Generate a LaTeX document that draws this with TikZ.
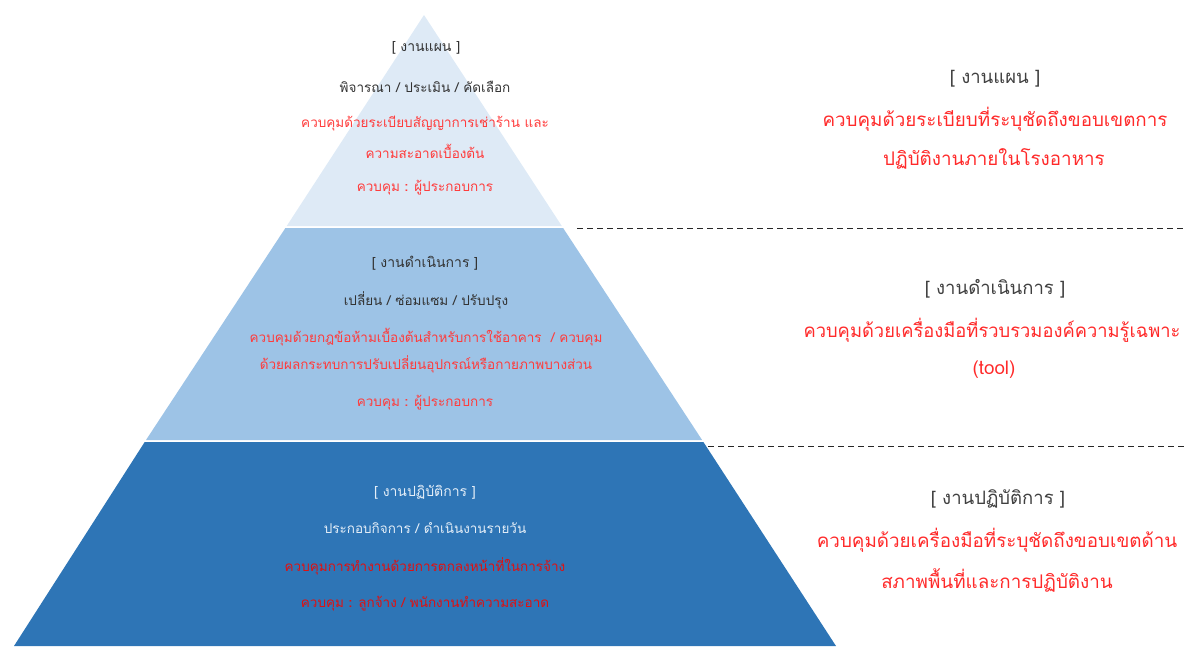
\documentclass[tikz,border=0pt]{standalone}
\usepackage{fontspec}
\setmainfont{Loma}[Script=Thai]
\definecolor{bandtop}{HTML}{DEEAF6}
\definecolor{bandmid}{HTML}{9DC3E6}
\definecolor{bandbot}{HTML}{2E75B6}
\definecolor{hdr}{HTML}{333333}
\definecolor{redA}{HTML}{FF3B3B}
\definecolor{redB}{HTML}{E01010}
\definecolor{lighttxt}{HTML}{E4EEF8}
\definecolor{rightred}{HTML}{FF2A2A}
\definecolor{rightgray}{HTML}{404040}
\tikzset{
  ptxt/.style={font=\fontsize{13.5}{16}\selectfont, inner sep=0pt, anchor=center},
  phdr/.style={font=\fontsize{14}{17}\selectfont, inner sep=0pt, anchor=center},
  rtxt/.style={font=\fontsize{18.8}{22}\selectfont, inner sep=0pt, anchor=center},
  rhdr/.style={font=\fontsize{18.5}{22}\selectfont, inner sep=0pt, anchor=center, text=rightgray},
  sep/.style={dashed, dash pattern=on 6pt off 4pt, line width=1pt, draw=black!85}
}
\begin{document}
\begin{tikzpicture}[x=1pt,y=-1pt]
\useasboundingbox (0,0) rectangle (1186,646);
% pyramid bands
\fill[bandtop] (424,15) -- (561.8,226) -- (286.7,226) -- cycle;
\fill[bandmid] (563.1,228) -- (702.1,440) -- (146.0,440) -- (285.4,228) -- cycle;
\fill[bandbot] (703.4,442) -- (836,646) -- (14,646) -- (144.7,442) -- cycle;
% dashed separators
\coordinate (s1a) at (577,228);
\coordinate (s1b) at (1186,228);
\coordinate (s2a) at (708,446);
\coordinate (s2b) at (1186,446);
\draw[sep] (s1a) -- (s1b);
\draw[sep] (s2a) -- (s2b);
% top band text
\node[phdr, text=hdr] (t1) at (426,48) {[ งานแผน ]};
\node[ptxt, text=hdr] (t2) at (425,87) {พิจารณา / ประเมิน / คัดเลือก};
\node[ptxt, text=redA] (t3) at (425,124) {ควบคุมด้วยระเบียบสัญญาการเช่าร้าน และ};
\node[ptxt, text=redA] (t4) at (425,151) {ความสะอาดเบื้องต้น};
\node[ptxt, text=redA] (t5) at (425,188) {ควบคุม \textbf{:} ผู้ประกอบการ};
% middle band text
\node[phdr, text=hdr] (m1) at (425,263) {[ งานดำเนินการ ]};
\node[ptxt, text=hdr] (m2) at (426,300) {เปลี่ยน / ซ่อมแซม / ปรับปรุง};
\node[ptxt, text=redA] (m3) at (426,337) {ควบคุมด้วยกฎข้อห้ามเบื้องต้นสำหรับการใช้อาคาร~ / ควบคุม};
\node[ptxt, text=redA] (m4) at (426,364) {ด้วยผลกระทบการปรับเปลี่ยนอุปกรณ์หรือกายภาพบางส่วน};
\node[ptxt, text=redA] (m5) at (425,403) {ควบคุม \textbf{:} ผู้ประกอบการ};
% bottom band text
\node[phdr, text=lighttxt] (b1) at (425,492) {[ งานปฏิบัติการ ]};
\node[ptxt, text=lighttxt] (b2) at (425,528) {ประกอบกิจการ / ดำเนินงานรายวัน};
\node[ptxt, text=redB] (b3) at (425,566) {ควบคุมการทำงานด้วยการตกลงหน้าที่ในการจ้าง};
\node[ptxt, text=redB] (b4) at (425,604) {ควบคุม \textbf{:} ลูกจ้าง / พนักงานทำความสะอาด};
% right side text
\node[rhdr] (r1) at (995,79) {[ งานแผน ]};
\node[rtxt, text=rightred] (r2) at (995,119) {ควบคุมด้วยระเบียบที่ระบุชัดถึงขอบเขตการ};
\node[rtxt, text=rightred] (r3) at (994,159) {ปฏิบัติงานภายในโรงอาหาร};
\node[rhdr] (r4) at (995,289) {[ งานดำเนินการ ]};
\node[rtxt, text=rightred] (r5) at (992,330) {\scalebox{0.975}[1]{ควบคุมด้วยเครื่องมือที่รวบรวมองค์ความรู้เฉพาะ}};
\node[rtxt, text=rightred] (r6) at (994,370) {(tool)};
\node[rhdr] (r7) at (998,499) {[ งานปฏิบัติการ ]};
\node[rtxt, text=rightred] (r8) at (997,540) {ควบคุมด้วยเครื่องมือที่ระบุชัดถึงขอบเขตด้าน};
\node[rtxt, text=rightred] (r9) at (997,580) {สภาพพื้นที่และการปฏิบัติงาน};
\end{tikzpicture}
\end{document}
